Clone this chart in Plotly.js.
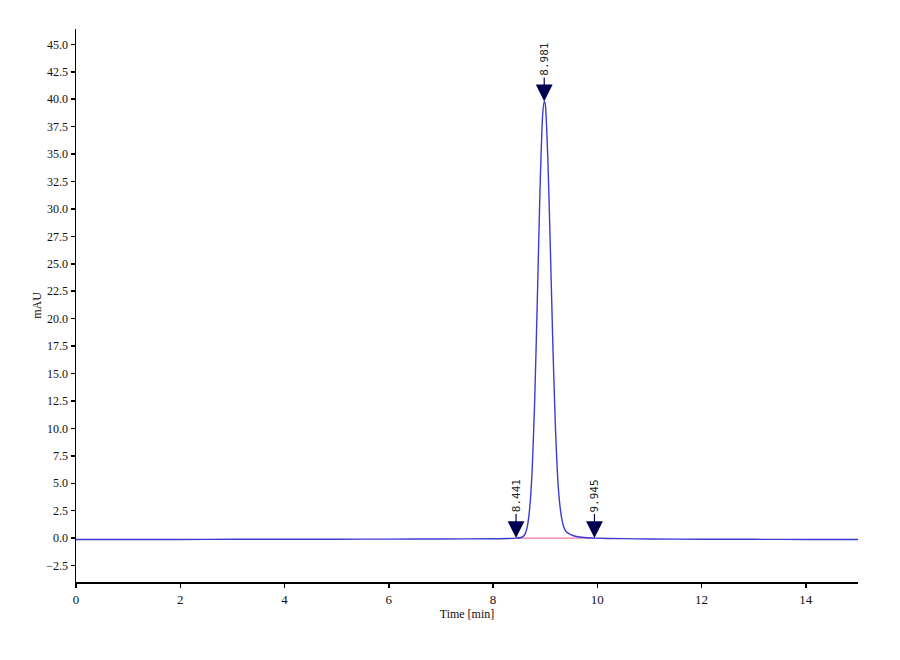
<!DOCTYPE html>
<html>
<head>
<meta charset="utf-8">
<script src="https://cdn.plot.ly/plotly-3.0.1.min.js"></script>
<style>
  body { margin: 0; background: #ffffff; }
  #chart { width: 900px; height: 660px; }
</style>
</head>
<body>
<div id="chart"></div>
<script>
// chromatogram
const timeMin = [0, 1, 2, 3, 4, 5, 6, 7, 8, 8.3, 8.441, 8.55, 8.60, 8.65, 8.70, 8.75, 8.80, 8.85, 8.90, 8.95, 8.981,
                 9.00, 9.05, 9.10, 9.15, 9.20, 9.25, 9.30, 9.35, 9.40, 9.50, 9.60, 9.75, 9.945, 10.5, 11, 12, 13, 14, 15];
const mAU = [-0.12, -0.12, -0.12, -0.11, -0.1, -0.1, -0.09, -0.08, -0.06, -0.04, 0.0, 0.08, 0.26, 0.89, 2.6, 6.2, 12.8, 21.9, 31.7, 38.5, 39.8,
             39.6, 34.6, 26.2, 17.1, 9.6, 4.7, 2.3, 1.1, 0.6, 0.3, 0.15, 0.05, 0.0, -0.05, -0.08, -0.1, -0.11, -0.12, -0.12];

// integration marks
const peakTimes = [8.441, 8.981, 9.945];
const peakLevels = [0.0, 39.8, 0.0];
const peakLabels = ['8.441', '8.981', '9.945'];
const baselineTimes = [8.441, 9.945];
const baselineLevels = [0.0, 0.0];

const yTicks = [];
for (let v = -2.5; v <= 45; v += 2.5) yTicks.push(v);

const traces = [
  {
    x: baselineTimes, y: baselineLevels,
    type: 'scatter', mode: 'lines',
    line: { color: '#f27a9a', width: 1.2 },
    hoverinfo: 'skip'
  },
  {
    x: timeMin, y: mAU,
    type: 'scatter', mode: 'lines',
    line: { color: '#3b3bd4', width: 1.4, shape: 'spline', smoothing: 0.6 }
  }
];

const annotations = peakTimes.map((t, i) => ({
  x: t, y: peakLevels[i],
  xref: 'x', yref: 'y',
  text: peakLabels[i],
  textangle: -90,
  showarrow: true,
  arrowhead: 2,
  arrowsize: 2.8,
  arrowwidth: 1.2,
  arrowcolor: '#000050',
  ax: 0, ay: -42,
  font: { family: 'DejaVu Sans Mono, monospace', size: 11, color: '#222222' }
}));

const layout = {
  width: 900, height: 660,
  margin: { t: 29, r: 42, b: 78, l: 76 },
  showlegend: false,
  plot_bgcolor: '#ffffff',
  paper_bgcolor: '#ffffff',
  font: { family: 'Liberation Serif, Times New Roman, serif', size: 12, color: '#111111' },
  xaxis: {
    range: [0, 15],
    tickvals: [0, 2, 4, 6, 8, 10, 12, 14],
    showgrid: false, zeroline: false,
    showline: true, linecolor: '#000000', linewidth: 2,
    ticks: 'outside', ticklen: 4, tickwidth: 1.5, tickcolor: '#000000',
    tickfont: { size: 13, color: '#111111' },
    title: { text: 'Time [min]', font: { size: 12, color: '#111111' }, standoff: 4 }
  },
  yaxis: {
    range: [-4.0, 46.4],
    tickvals: yTicks,
    tickformat: '.1f',
    showgrid: false, zeroline: false,
    showline: true, linecolor: '#000000', linewidth: 1.5,
    ticks: 'outside', ticklen: 4, tickwidth: 1.5, tickcolor: '#000000',
    tickfont: { size: 12, color: '#111111' },
    title: { text: 'mAU', font: { size: 12, color: '#111111' }, standoff: 2 }
  },
  annotations: annotations
};

Plotly.newPlot('chart', traces, layout, { displayModeBar: false, staticPlot: true });
</script>
</body>
</html>
